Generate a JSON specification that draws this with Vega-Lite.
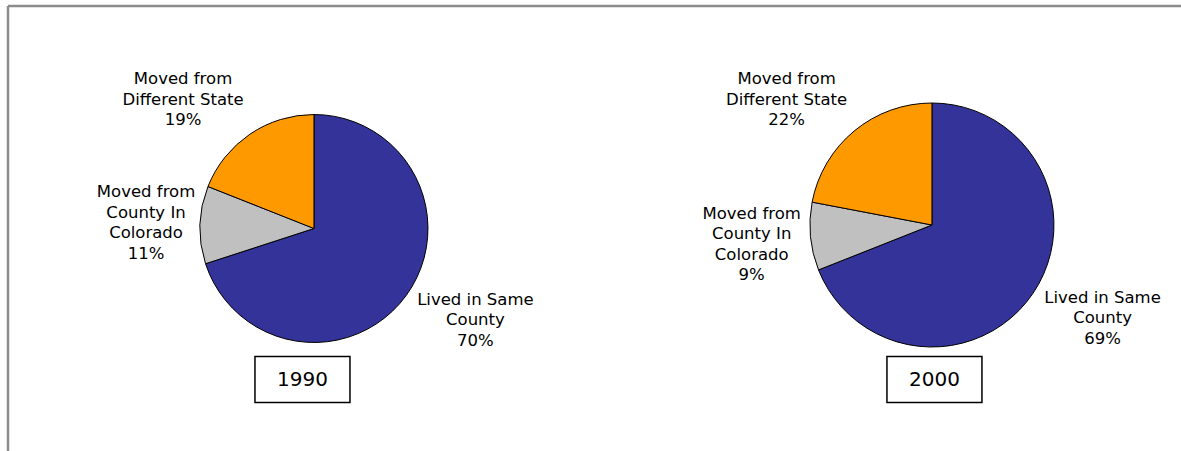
{
  "$schema": "https://vega.github.io/schema/vega-lite/v6.json",
  "width": 1173,
  "height": 445,
  "padding": {"left": 8, "top": 6, "right": 0, "bottom": 0},
  "autosize": {"type": "none"},
  "background": "white",
  "config": {
    "view": {"stroke": "#8c8c8c", "strokeWidth": 2.5, "strokeDash": [1173, 1618, 445, 0]},
    "text": {"font": "DejaVu Sans"}
  },
  "data": {
    "values": [
      {"year": 1990, "category": "Lived in Same County", "label": "Lived in Same\nCounty\n70%", "value": 70},
      {"year": 1990, "category": "Moved from County In Colorado", "label": "Moved from\nCounty In\nColorado\n11%", "value": 11},
      {"year": 1990, "category": "Moved from Different State", "label": "Moved from\nDifferent State\n19%", "value": 19},
      {"year": 2000, "category": "Lived in Same County", "label": "Lived in Same\nCounty\n69%", "value": 69},
      {"year": 2000, "category": "Moved from County In Colorado", "label": "Moved from\nCounty In\nColorado\n9%", "value": 9},
      {"year": 2000, "category": "Moved from Different State", "label": "Moved from\nDifferent State\n22%", "value": 22}
    ]
  },
  "layer": [
    {
      "transform": [{"filter": "datum.year == 1990"}],
      "mark": {"type": "arc", "outerRadius": 114, "stroke": "black", "strokeWidth": 1},
      "encoding": {
        "x": {"datum": 1990, "type": "quantitative", "scale": {"domain": [1985.049, 2004.03], "nice": false, "zero": false}, "axis": null},
        "theta": {"field": "value", "type": "quantitative", "stack": true, "scale": {"domain": [0, 100]}},
        "color": {"field": "category", "type": "nominal", "legend": null, "scale": {"domain": ["Lived in Same County", "Moved from County In Colorado", "Moved from Different State"], "range": ["#333399", "#C0C0C0", "#FF9900"]}},
        "order": {"field": "category", "type": "nominal", "sort": "ascending"}
      }
    },
    {
      "transform": [{"filter": "datum.year == 1990"}],
      "mark": {"type": "text", "radius": 160, "fontSize": 16.5, "lineHeight": 20.5, "lineBreak": "\n", "align": "center", "baseline": "middle", "fill": "#000000",
        "dx": {"expr": "datum.category == 'Lived in Same County' ? 32 : datum.category == 'Moved from Different State' ? -41 : -8"},
        "dy": {"expr": "datum.category == 'Lived in Same County' ? -23 : datum.category == 'Moved from Different State' ? -17 : -31"}},
      "encoding": {
        "x": {"datum": 1990, "type": "quantitative"},
        "theta": {"field": "value", "type": "quantitative", "stack": true},
        "detail": {"field": "category", "type": "nominal"},
        "order": {"field": "category", "type": "nominal", "sort": "ascending"},
        "text": {"field": "label", "type": "nominal"}
      }
    },
    {
      "transform": [{"filter": "datum.year == 2000"}],
      "mark": {"type": "arc", "outerRadius": 122, "stroke": "black", "strokeWidth": 1, "yOffset": -3.5},
      "encoding": {
        "x": {"datum": 2000, "type": "quantitative"},
        "theta": {"field": "value", "type": "quantitative", "stack": true},
        "color": {"field": "category", "type": "nominal", "legend": null},
        "order": {"field": "category", "type": "nominal", "sort": "ascending"}
      }
    },
    {
      "transform": [{"filter": "datum.year == 2000"}],
      "mark": {"type": "text", "radius": 170, "fontSize": 16.5, "lineHeight": 20.5, "lineBreak": "\n", "align": "center", "baseline": "middle", "fill": "#000000", "yOffset": -3.5,
        "dx": {"expr": "datum.category == 'Lived in Same County' ? 30 : datum.category == 'Moved from Different State' ? -37 : -11"},
        "dy": {"expr": "datum.category == 'Lived in Same County' ? -23 : datum.category == 'Moved from Different State' ? -15 : -27"}},
      "encoding": {
        "x": {"datum": 2000, "type": "quantitative"},
        "theta": {"field": "value", "type": "quantitative", "stack": true},
        "detail": {"field": "category", "type": "nominal"},
        "order": {"field": "category", "type": "nominal", "sort": "ascending"},
        "text": {"field": "label", "type": "nominal"}
      }
    },
    {
      "transform": [{"filter": "datum.category == 'Lived in Same County'"}],
      "mark": {"type": "point", "shape": "M-1,-0.484L1,-0.484L1,0.484L-1,0.484Z", "size": 9025, "filled": false, "stroke": "black", "strokeWidth": 1.5, "opacity": 1,
        "xOffset": {"expr": "datum.year == 1990 ? -11.5 : 2.5"}, "yOffset": 151},
      "encoding": {
        "x": {"field": "year", "type": "quantitative"}
      }
    },
    {
      "transform": [{"filter": "datum.category == 'Lived in Same County'"}],
      "mark": {"type": "text", "fontSize": 20, "align": "center", "baseline": "middle", "fill": "#000000",
        "dx": {"expr": "datum.year == 1990 ? -11.5 : 2.5"}, "dy": 151.5},
      "encoding": {
        "x": {"field": "year", "type": "quantitative"},
        "text": {"field": "year", "type": "nominal"}
      }
    }
  ]
}
